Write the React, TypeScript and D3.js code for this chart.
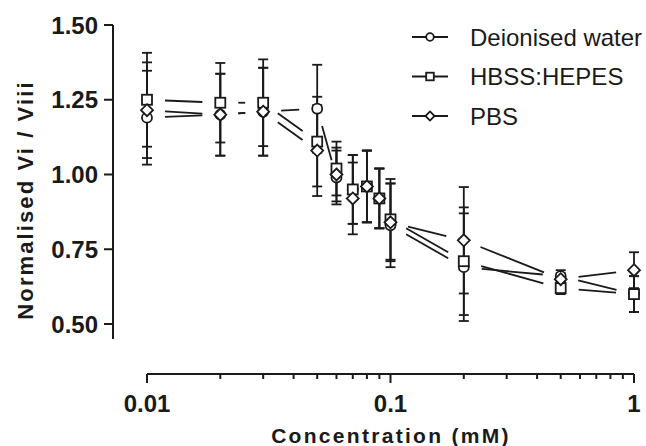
import React from "react";
import * as d3 from "d3";

const concentrations = [0.01, 0.02, 0.03, 0.05, 0.06, 0.07, 0.08, 0.09, 0.1, 0.2, 0.5, 1];

const dwMean = [1.19, 1.2, 1.21, 1.22, 0.99, 0.95, 0.96, 0.92, 0.83, 0.69, 0.66, 0.6];
const dwSd = [0.157, 0.137, 0.147, 0.147, 0.09, 0.115, 0.12, 0.1, 0.14, 0.18, 0.02, 0.06];
const hbssMean = [1.25, 1.24, 1.24, 1.11, 1.02, 0.95, 0.96, 0.92, 0.85, 0.71, 0.62, 0.6];
const hbssSd = [0.157, 0.133, 0.145, 0.15, 0.09, 0.115, 0.12, 0.1, 0.135, 0.18, 0.02, 0.06];
const pbsMean = [1.215, 1.2, 1.21, 1.08, 1.0, 0.92, 0.96, 0.92, 0.84, 0.78, 0.65, 0.68];
const pbsSd = [0.16, 0.137, 0.147, 0.152, 0.09, 0.12, 0.12, 0.1, 0.13, 0.178, 0.02, 0.06];

const seriesNames = ["Deionised water", "HBSS:HEPES", "PBS"];
const seriesShapes = ["circle", "square", "diamond"];
const yTicks = [0.5, 0.75, 1.0, 1.25, 1.5];
const xMajorTicks = [0.01, 0.1, 1];
const xTickLabels = ["0.01", "0.1", "1"];

const FONT = "Arial, 'Liberation Sans', Helvetica, sans-serif";

function Marker({ shape, x, y, s }: { shape: string; x: number; y: number; s: number }) {
  const common = { fill: "white", stroke: "#1a1a1a", strokeWidth: 1.8 };
  if (shape === "circle") return <circle cx={x} cy={y} r={s} {...common} />;
  if (shape === "square") return <rect x={x - s} y={y - s} width={2 * s} height={2 * s} {...common} />;
  const d = s * 1.2;
  return <path d={`M${x},${y - d}L${x + d},${y}L${x},${y + d}L${x - d},${y}Z`} {...common} />;
}

export default function App() {
  const W = 646, H = 446;
  const x = d3.scaleLog().domain([0.01, 1]).range([147, 634]);
  const y = d3.scaleLinear().domain([0.5, 1.5]).range([324, 25]);
  const yBottom = 0.45;

  const series = [
    { name: seriesNames[0], shape: seriesShapes[0], mean: dwMean, sd: dwSd },
    { name: seriesNames[1], shape: seriesShapes[1], mean: hbssMean, sd: hbssSd },
    { name: seriesNames[2], shape: seriesShapes[2], mean: pbsMean, sd: pbsSd },
  ];

  const gap = 18;
  const minorTicks: number[] = [];
  [0.01, 0.1].forEach((dec) => {
    for (let k = 2; k <= 9; k++) minorTicks.push(dec * k);
  });

  const stroke = "#1a1a1a";

  return (
    <svg width={W} height={H} style={{ position: "absolute", left: 0, top: 0, background: "white" }} fontFamily={FONT}>
      {/* Y axis */}
      <line x1={113} x2={113} y1={y(1.5)} y2={y(yBottom)} stroke={stroke} strokeWidth={2} />
      {yTicks.map((t) => (
        <g key={t}>
          <line x1={104} x2={113} y1={y(t)} y2={y(t)} stroke={stroke} strokeWidth={2} />
          <text x={98} y={y(t)} dy="0.36em" textAnchor="end" fontSize={24} fontWeight="bold" fill="#1a1a1a">
            {t.toFixed(2)}
          </text>
        </g>
      ))}
      {/* X axis */}
      <line x1={x(0.01)} x2={x(1)} y1={374} y2={374} stroke={stroke} strokeWidth={2} />
      {xMajorTicks.map((t, i) => (
        <g key={t}>
          <line x1={x(t)} x2={x(t)} y1={374} y2={383} stroke={stroke} strokeWidth={2} />
          <text x={x(t)} y={412} textAnchor="middle" fontSize={24} fontWeight="bold" fill="#1a1a1a">
            {xTickLabels[i]}
          </text>
        </g>
      ))}
      {minorTicks.map((t) => (
        <line key={t} x1={x(t)} x2={x(t)} y1={374} y2={379} stroke={stroke} strokeWidth={2} />
      ))}
      {/* axis titles */}
      <text x={391} y={443} textAnchor="middle" fontSize={21} fontWeight="bold" letterSpacing={2.3} fill="#1a1a1a">
        Concentration (mM)
      </text>
      <text
        transform={`translate(33,200) rotate(-90)`}
        textAnchor="middle"
        fontSize={22}
        fontWeight="bold"
        letterSpacing={2.1}
        fill="#1a1a1a"
      >
        Normalised Vi / Viii
      </text>

      {/* connecting lines with gaps */}
      {series.map((s) => (
        <g key={s.name + "lines"}>
          {concentrations.slice(0, -1).map((c, i) => {
            const x1 = x(c), y1 = y(s.mean[i]);
            const x2 = x(concentrations[i + 1]), y2 = y(s.mean[i + 1]);
            const dx = x2 - x1, dy = y2 - y1;
            const len = Math.hypot(dx, dy);
            if (len <= 2 * gap) return null;
            const ux = dx / len, uy = dy / len;
            return (
              <line
                key={i}
                x1={x1 + ux * gap}
                y1={y1 + uy * gap}
                x2={x2 - ux * gap}
                y2={y2 - uy * gap}
                stroke={stroke}
                strokeWidth={1.8}
              />
            );
          })}
        </g>
      ))}

      {/* error bars */}
      {series.map((s) => (
        <g key={s.name + "err"}>
          {concentrations.map((c, i) => {
            const cx = x(c);
            const top = y(s.mean[i] + s.sd[i]);
            const bot = y(s.mean[i] - s.sd[i]);
            return (
              <g key={i}>
                <line x1={cx} x2={cx} y1={top} y2={bot} stroke={stroke} strokeWidth={1.8} />
                <line x1={cx - 5} x2={cx + 5} y1={top} y2={top} stroke={stroke} strokeWidth={1.8} />
                <line x1={cx - 5} x2={cx + 5} y1={bot} y2={bot} stroke={stroke} strokeWidth={1.8} />
              </g>
            );
          })}
        </g>
      ))}

      {/* markers */}
      {series.map((s) => (
        <g key={s.name + "mk"}>
          {concentrations.map((c, i) => (
            <Marker key={i} shape={s.shape} x={x(c)} y={y(s.mean[i])} s={5} />
          ))}
        </g>
      ))}

      {/* legend */}
      {series.map((s, i) => {
        const ly = 37 + i * 39.5;
        return (
          <g key={s.name + "leg"}>
            <line x1={412} x2={448} y1={ly} y2={ly} stroke={stroke} strokeWidth={1.8} />
            <Marker shape={s.shape} x={430} y={ly} s={3.8} />
            <text x={470} y={ly + 8.5} fontSize={24} fill="#1a1a1a">
              {s.name}
            </text>
          </g>
        );
      })}
    </svg>
  );
}
